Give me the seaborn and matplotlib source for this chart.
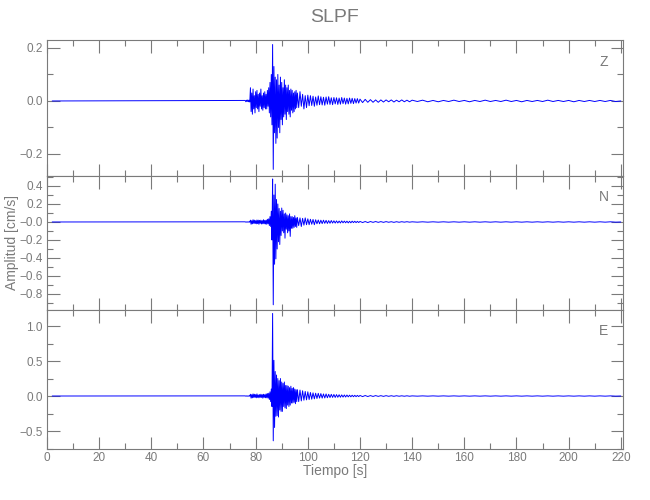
import numpy as np
import pandas as pd
import matplotlib
matplotlib.use("Agg")
import matplotlib.pyplot as plt
from matplotlib.ticker import MultipleLocator, FixedLocator
import seaborn as sns

# sample grids (s): quiet start, event, coda, late coda, tail
t_start = [2.0]
t_fast = np.arange(76.0, 96.0, 0.25)   # 80 samples
t_mid = np.arange(96.0, 120.0, 0.5)    # 48 samples
t_slow = np.arange(120.0, 140.0, 1.0)  # 20 samples
t_tail = np.arange(140.0, 221.0, 2.0)  # 41 samples

# --- Z component (cm/s) ---
z_fast = [0.002, -0.003, 0.003, -0.002, 0.004, -0.003, 0.003, -0.004,
          0.05, -0.04, 0.03, -0.05, 0.045, -0.03, 0.02, -0.045,
          0.035, -0.025, 0.04, -0.03, 0.025, -0.04, 0.03, -0.02,
          0.045, -0.03, 0.02, -0.035, 0.03, -0.025, 0.035, -0.03,
          0.025, -0.03, 0.04, -0.02, 0.05, -0.045, 0.07, -0.06,
          0.1, -0.09, 0.213, -0.258, 0.13, -0.12, 0.09, -0.16,
          0.08, -0.14, 0.1, -0.1, 0.06, -0.12, 0.09, -0.07,
          0.07, -0.09, 0.05, -0.06, 0.08, -0.05, 0.06, -0.07,
          0.05, -0.04, 0.06, -0.05, 0.04, -0.06, 0.045, -0.035,
          0.04, -0.045, 0.03, -0.04, 0.035, -0.03, 0.04, -0.025]
z_mid = [0.03, -0.025, 0.035, -0.02, 0.025, -0.03, 0.02, -0.025, 0.022, -0.018,
         0.02, -0.017, 0.018, -0.02, 0.015, -0.016, 0.019, -0.014, 0.016, -0.015,
         0.014, -0.016, 0.015, -0.012, 0.016, -0.013, 0.012, -0.014, 0.013, -0.011,
         0.012, -0.013, 0.011, -0.012, 0.013, -0.01, 0.011, -0.012, 0.01, -0.011,
         0.011, -0.009, 0.01, -0.01, 0.009, -0.008, 0.009, -0.008]
z_slow = [0.007, -0.006, 0.006, -0.005, 0.005, -0.005, 0.004, -0.005, 0.004, -0.004,
          0.004, -0.003, 0.004, -0.004, 0.003, -0.003, 0.004, -0.003, 0.003, -0.003]
z_tail = [0.003, -0.002, 0.003, -0.003, 0.002, -0.003, 0.002, -0.002, 0.003, -0.002,
          0.002, -0.003, 0.002, -0.002, 0.003, -0.002, 0.002, -0.002, 0.003, -0.002,
          0.002, -0.003, 0.002, -0.002, 0.002, -0.002, 0.003, -0.002, 0.002, -0.002,
          0.002, -0.003, 0.002, -0.002, 0.002, -0.002, 0.002, -0.002, 0.002, -0.002,
          0.0]

# --- N component ---
n_fast = [0.002, -0.002, 0.001, -0.002, 0.002, -0.001, 0.002, -0.002,
          0.02, -0.025, 0.015, -0.02, 0.025, -0.015, 0.02, -0.018,
          0.015, -0.02, 0.022, -0.018, 0.02, -0.025, 0.018, -0.015,
          0.02, -0.022, 0.015, -0.02, 0.025, -0.02, 0.018, -0.022,
          0.02, -0.025, 0.03, -0.02, 0.035, -0.04, 0.06, -0.05,
          0.12, -0.2, 0.478, -0.92, 0.3, -0.47, 0.42, -0.41,
          0.25, -0.3, 0.2, -0.22, 0.15, -0.25, 0.12, -0.15,
          0.155, -0.1, 0.13, -0.12, 0.09, -0.18, 0.1, -0.08,
          0.08, -0.12, 0.07, -0.1, 0.09, -0.16, 0.06, -0.07,
          0.06, -0.07, 0.05, -0.06, 0.07, -0.05, 0.045, -0.06]
n_mid = [0.05, -0.04, 0.045, -0.05, 0.04, -0.035, 0.045, -0.03, 0.035, -0.03,
         0.03, -0.025, 0.028, -0.03, 0.025, -0.02, 0.022, -0.02, 0.02, -0.018,
         0.02, -0.015, 0.018, -0.016, 0.015, -0.014, 0.016, -0.012, 0.013, -0.012,
         0.012, -0.011, 0.01, -0.011, 0.012, -0.009, 0.01, -0.009, 0.009, -0.01,
         0.008, -0.009, 0.009, -0.007, 0.008, -0.007, 0.007, -0.006]
n_slow = [0.006, -0.006, 0.005, -0.006, 0.005, -0.004, 0.005, -0.004, 0.004, -0.004,
          0.004, -0.003, 0.003, -0.004, 0.003, -0.003, 0.003, -0.002, 0.003, -0.002]
n_tail = [0.002, -0.002, 0.002, -0.002, 0.002, -0.002, 0.002, -0.002, 0.002, -0.002,
          0.002, -0.002, 0.002, -0.002, 0.002, -0.002, 0.002, -0.002, 0.002, -0.002,
          0.002, -0.002, 0.002, -0.002, 0.002, -0.002, 0.002, -0.002, 0.002, -0.002,
          0.002, -0.002, 0.002, -0.002, 0.002, -0.002, 0.002, -0.002, 0.002, -0.002,
          0.0]

# --- E component ---
e_fast = [0.002, -0.002, 0.002, -0.003, 0.002, -0.002, 0.003, -0.002,
          0.025, -0.03, 0.02, -0.025, 0.03, -0.02, 0.025, -0.02,
          0.02, -0.025, 0.03, -0.02, 0.015, -0.025, 0.02, -0.02,
          0.025, -0.02, 0.02, -0.03, 0.025, -0.02, 0.02, -0.025,
          0.03, -0.025, 0.035, -0.03, 0.04, -0.05, 0.06, -0.08,
          0.1, -0.15, 1.18, -0.64, 0.51, -0.45, 0.35, -0.29,
          0.3, -0.28, 0.25, -0.3, 0.22, -0.2, 0.25, -0.22,
          0.2, -0.22, 0.18, -0.15, 0.2, -0.17, 0.15, -0.18,
          0.15, -0.13, 0.14, -0.15, 0.12, -0.13, 0.14, -0.1,
          0.11, -0.1, 0.12, -0.09, 0.1, -0.11, 0.09, -0.08]
e_mid = [0.09, -0.08, 0.085, -0.07, 0.075, -0.06, 0.065, -0.055, 0.06, -0.05,
         0.05, -0.045, 0.045, -0.04, 0.04, -0.035, 0.038, -0.03, 0.035, -0.03,
         0.03, -0.028, 0.03, -0.025, 0.025, -0.022, 0.024, -0.02, 0.022, -0.02,
         0.02, -0.018, 0.018, -0.017, 0.016, -0.015, 0.015, -0.014, 0.014, -0.012,
         0.012, -0.011, 0.011, -0.01, 0.01, -0.009, 0.009, -0.008]
e_slow = [0.008, -0.008, 0.007, -0.007, 0.006, -0.006, 0.006, -0.005, 0.005, -0.005,
          0.005, -0.004, 0.004, -0.004, 0.004, -0.003, 0.003, -0.003, 0.003, -0.003]
e_tail = [0.002, -0.002, 0.002, -0.002, 0.002, -0.002, 0.002, -0.002, 0.002, -0.002,
          0.002, -0.002, 0.002, -0.002, 0.002, -0.002, 0.002, -0.002, 0.002, -0.002,
          0.002, -0.002, 0.002, -0.002, 0.002, -0.002, 0.002, -0.002, 0.002, -0.002,
          0.002, -0.002, 0.002, -0.002, 0.002, -0.002, 0.002, -0.002, 0.002, -0.002,
          0.0]

components = ["Z", "N", "E"]
ylims = {"Z": (-0.283, 0.230), "N": (-0.978, 0.511), "E": (-0.757, 1.229)}
yticks = {"Z": [-0.2, 0.0, 0.2],
          "N": [-0.8, -0.6, -0.4, -0.2, 0.0, 0.2, 0.4],
          "E": [-0.5, 0.0, 0.5, 1.0]}
ytick_labels = {"Z": ["\u22120.2", "0.0", "0.2"],
                "N": ["\u22120.8", "\u22120.6", "\u22120.4", "\u22120.2", "\u22120.0", "0.2", "0.4"],
                "E": ["\u22120.5", "0.0", "0.5", "1.0"]}
yminor = {"Z": 0.1, "N": 0.1, "E": 0.25}

t_all = np.concatenate([t_start, t_fast, t_mid, t_slow, t_tail])
traces = {
    "Z": np.concatenate([[0.0], z_fast, z_mid, z_slow, z_tail]),
    "N": np.concatenate([[0.0], n_fast, n_mid, n_slow, n_tail]),
    "E": np.concatenate([[0.0], e_fast, e_mid, e_slow, e_tail]),
}

sns.set_style("ticks")
plt.rcParams["font.family"] = ["Liberation Sans", "DejaVu Sans"]
gray = "#7a7a7a"

fig = plt.figure(figsize=(6.5, 5), dpi=100)
# axes boxes in figure fractions (left, bottom, width, height)
boxes = {"Z": [0.0723, 0.648, 0.886, 0.272],
         "N": [0.0723, 0.380, 0.886, 0.268],
         "E": [0.0723, 0.102, 0.886, 0.278]}
label_y = {"Z": 0.838, "N": 0.843, "E": 0.85}

for comp in components:
    ax = fig.add_axes(boxes[comp])
    df = pd.DataFrame({"Tiempo": t_all, "Amp": traces[comp]})
    sns.lineplot(data=df, x="Tiempo", y="Amp", ax=ax, color="#0000ff",
                 lw=0.7, estimator=None, sort=False)
    ax.set_xlim(0, 220.8)
    ax.set_ylim(*ylims[comp])
    ax.xaxis.set_major_locator(MultipleLocator(20))
    ax.xaxis.set_minor_locator(MultipleLocator(10))
    ax.yaxis.set_major_locator(FixedLocator(yticks[comp]))
    ax.yaxis.set_minor_locator(MultipleLocator(yminor[comp]))
    ax.set_yticklabels(ytick_labels[comp])
    ax.tick_params(which="both", direction="in", top=True, right=True,
                   color=gray, labelcolor=gray, labelsize=8.5, pad=3)
    ax.tick_params(axis="x", pad=2)
    ax.tick_params(which="major", length=9, width=0.8)
    ax.tick_params(which="minor", length=4.5, width=0.8)
    for s in ax.spines.values():
        s.set_color(gray)
        s.set_linewidth(0.8)
    ax.set_xlabel("")
    ax.set_ylabel("")
    if comp != "E":
        ax.tick_params(labelbottom=False)
    ax.text(0.967, label_y[comp], comp, transform=ax.transAxes,
            ha="center", va="center", color=gray, fontsize=10)

fig.text(0.515, 0.964, "SLPF", ha="center", va="center", color=gray, fontsize=14)
fig.text(0.515, 0.058, "Tiempo [s]", ha="center", va="center", color=gray, fontsize=10)
fig.text(0.019, 0.516, "Amplitud [cm/s]", ha="center", va="center", color=gray,
         fontsize=10, rotation=90)

fig.savefig("out.png", dpi=100)
